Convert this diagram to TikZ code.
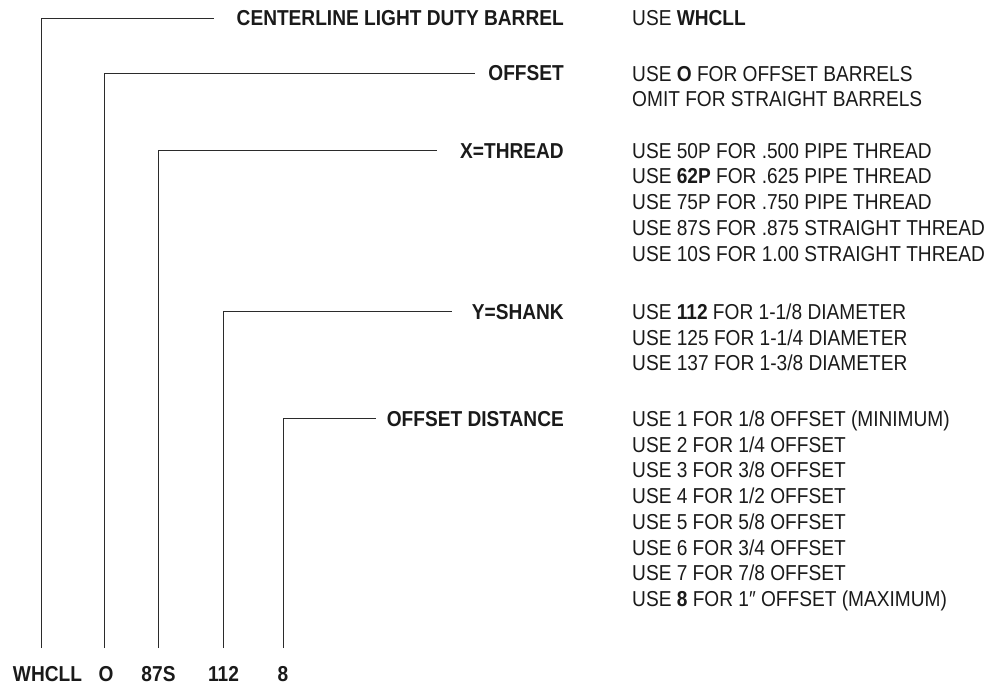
\documentclass[tikz,border=0pt]{standalone}
\usepackage{fontspec}
\setmainfont{Liberation Sans}[FakeStretch=0.885]
\usepackage{xcolor}
\definecolor{InkDark}{HTML}{1A1A1A}
\definecolor{RuleGray}{HTML}{2B2B2B}
\usetikzlibrary{positioning}
\tikzset{
  base text/.style={
    inner sep=0pt, text=InkDark,
    font=\fontsize{21.6}{25.7}\selectfont
  },
  field label/.style={base text, anchor=base east, font=\fontsize{21.6}{25.7}\selectfont\bfseries},
  rule list/.style={base text, anchor=north west, align=left},
  code node/.style={base text, anchor=base, inner sep=2pt, font=\fontsize{21.6}{25.7}\selectfont\bfseries},
  leader/.style={draw=RuleGray, line width=1pt, shorten <=15.5pt, shorten >=#1},
}

\begin{document}
\begin{tikzpicture}[x=1pt, y=-1pt]
  \useasboundingbox (0,0) rectangle (988,685);

  % ── Part number code ──────────────────────────────────────────────────────
  \node[code node] (whcll)  at (47.5,681) {WHCLL};
  \node[code node] (offs)   at (106,681)  {O};
  \node[code node] (thread) at (158.5,681) {87S};
  \node[code node] (shank)  at (223.5,681) {112};
  \node[code node] (dist)   at (283,681)  {8};

  % ── Field labels ──────────────────────────────────────────────────────────
  \node[field label] (barrel)    at (564,26)  {CENTERLINE LIGHT DUTY BARREL};
  \node[field label] (offset)    at (564,81)  {OFFSET};
  \node[field label] (xthread)   at (564,158) {X=THREAD};
  \node[field label] (yshank)    at (564,319) {Y=SHANK};
  \node[field label] (offsetdst) at (564,426) {OFFSET DISTANCE};

  % ── Rules ─────────────────────────────────────────────────────────────────
  \node[rule list] (barrelrule) at ([xshift=68pt]barrel.north east)
    {USE \textbf{WHCLL}};
  \node[rule list] (offsetrule) at ([xshift=68pt]offset.north east)
    {USE \textbf{O} FOR OFFSET BARRELS\\OMIT FOR STRAIGHT BARRELS};
  \node[rule list] (threadrule) at ([xshift=68pt]xthread.north east)
    {USE 50P FOR .500 PIPE THREAD\\
     USE \textbf{62P} FOR .625 PIPE THREAD\\
     USE 75P FOR .750 PIPE THREAD\\
     USE 87S FOR .875 STRAIGHT THREAD\\
     USE 10S FOR 1.00 STRAIGHT THREAD};
  \node[rule list] (shankrule) at ([xshift=68pt]yshank.north east)
    {USE \textbf{112} FOR 1-1/8 DIAMETER\\
     USE 125 FOR 1-1/4 DIAMETER\\
     USE 137 FOR 1-3/8 DIAMETER};
  \node[rule list] (distrule) at ([xshift=68pt]offsetdst.north east)
    {USE 1 FOR 1/8 OFFSET (MINIMUM)\\
     USE 2 FOR 1/4 OFFSET\\
     USE 3 FOR 3/8 OFFSET\\
     USE 4 FOR 1/2 OFFSET\\
     USE 5 FOR 5/8 OFFSET\\
     USE 6 FOR 3/4 OFFSET\\
     USE 7 FOR 7/8 OFFSET\\
     USE \textbf{8} FOR 1″ OFFSET (MAXIMUM)};

  % ── Leaders ───────────────────────────────────────────────────────────────
  \draw[leader=23pt] ([xshift=-6.5pt]whcll.north) |- (barrel.west);
  \draw[leader=13pt] ([xshift=-2pt]offs.north)    |- (offset.west);
  \draw[leader=23pt] (thread.north)               |- (xthread.west);
  \draw[leader=20pt] (shank.north)                |- (yshank.west);
  \draw[leader=11pt] (dist.north)                 |- (offsetdst.west);

\end{tikzpicture}
\end{document}
